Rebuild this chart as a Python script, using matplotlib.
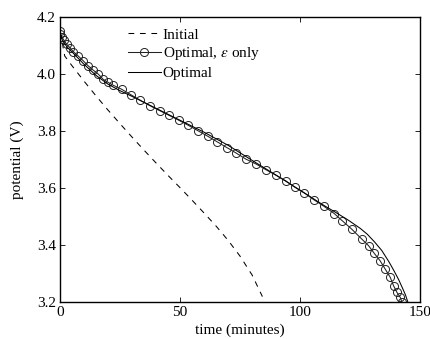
import matplotlib
matplotlib.use("Agg")
import matplotlib.pyplot as plt

plt.rcParams["font.family"] = ["Liberation Serif", "DejaVu Serif"]
plt.rcParams["mathtext.fontset"] = "stix"

# discharge curves: time in minutes, cell potential in volts
t_initial = [0, 1, 2, 5, 10, 15, 20, 25, 30, 35, 40, 45, 50, 55, 60, 65, 70, 75, 80, 84.3]
v_initial = [4.15, 4.11, 4.064, 4.03, 3.976, 3.924, 3.874, 3.826, 3.779, 3.733, 3.688,
             3.644, 3.601, 3.557, 3.512, 3.466, 3.416, 3.36, 3.294, 3.218]

t_eps = [0, 0, 0.7, 1.7, 2.8, 4.2, 5.6, 7.6, 9.7, 11.8, 13.9, 16.0, 18.0, 20.1, 22.2, 25.7,
         29.5, 33.5, 37.5, 41.5, 45.5, 49.5, 53.5, 57.5, 61.5, 65.5, 69.5, 73.5, 77.5, 81.7,
         85.8, 89.9, 94.0, 97.9, 101.8, 105.8, 110.0, 114.2, 117.5, 121.5, 125.7, 128.5,
         130.6, 133.3, 135.4, 137.5, 138.9, 140.3, 141.7, 142.4]
v_eps = [4.152, 4.142, 4.132, 4.119, 4.105, 4.093, 4.079, 4.064, 4.047, 4.029, 4.014, 4.0,
         3.982, 3.971, 3.961, 3.947, 3.928, 3.908, 3.889, 3.872, 3.855, 3.838, 3.82, 3.801,
         3.782, 3.762, 3.742, 3.722, 3.701, 3.684, 3.664, 3.645, 3.625, 3.602, 3.582, 3.558,
         3.535, 3.51, 3.485, 3.455, 3.42, 3.397, 3.373, 3.344, 3.315, 3.286, 3.256, 3.233,
         3.215, 3.198]

t_opt = [0, 1, 3, 6, 10, 15, 20, 25, 30, 40, 50, 60, 70, 80, 90, 100, 110, 115, 120, 125,
         128, 131, 134, 137, 139, 141, 142.5, 143.8, 144.6, 144.8]
v_opt = [4.15, 4.12, 4.095, 4.07, 4.035, 3.996, 3.965, 3.942, 3.922, 3.88, 3.838, 3.796,
         3.75, 3.697, 3.645, 3.592, 3.538, 3.513, 3.487, 3.458, 3.437, 3.41, 3.38, 3.34,
         3.31, 3.278, 3.25, 3.225, 3.205, 3.20]

x_ticks = [0, 50, 100, 150]
y_ticks = [3.2, 3.4, 3.6, 3.8, 4.0, 4.2]

fig = plt.figure(figsize=(4.31, 3.39), dpi=100)
ax = fig.add_axes([0.139, 0.11, 0.836, 0.839])

ax.plot(t_initial, v_initial, color="k", lw=0.75, ls=(0, (5.5, 5.5)), label="Initial")
ax.plot(t_eps, v_eps, color="#222222", lw=0.75, marker="o", ms=5.8, mfc="none", mew=0.7,
        label=r"Optimal, $\varepsilon$ only")
ax.plot(t_opt, v_opt, color="k", lw=0.75, label="Optimal")

ax.set_xlim(0, 150)
ax.set_ylim(3.2, 4.2)
ax.set_xticks(x_ticks)
ax.set_yticks(y_ticks)
ax.set_yticklabels([f"{v:.1f}" for v in y_ticks])
ax.tick_params(direction="in", top=True, right=True, labelsize=11, length=3.5, width=0.6, pad=3)
for s in ax.spines.values():
    s.set_linewidth(1.0)

ax.set_xlabel("time (minutes)", fontsize=11, labelpad=3)
ax.set_ylabel("potential (V)", fontsize=11, labelpad=9)

ax.legend(loc="upper left", bbox_to_anchor=(0.188, 0.963), frameon=False, fontsize=11,
          handlelength=2.2, handletextpad=0.1, labelspacing=0.26, borderaxespad=0,
          borderpad=0)

fig.savefig("out.png", dpi=100)
